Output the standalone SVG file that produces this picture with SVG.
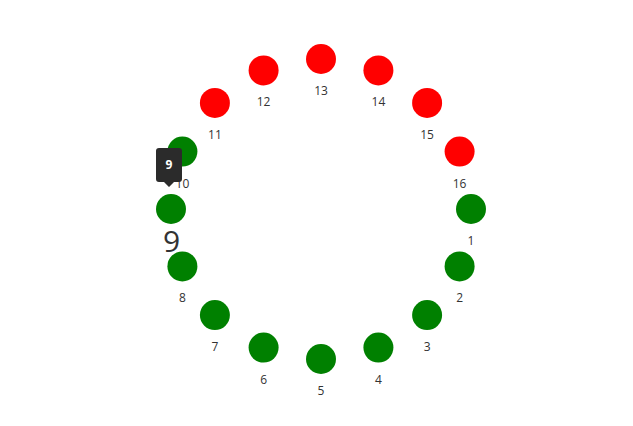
<svg xmlns="http://www.w3.org/2000/svg" width="633" height="426" viewBox="0 0 633 426">
<style>
.r{fill:#ff0000}
.g{fill:#008000}
.lbl{font-family:"Open Sans","Liberation Sans",sans-serif;font-size:12px;fill:#333;text-anchor:middle}
.big{font-family:"Open Sans","Liberation Sans",sans-serif;font-size:30px;fill:#333;text-anchor:middle}
.tt{font-family:"Open Sans","Liberation Sans",sans-serif;font-size:12px;font-weight:bold;fill:#fff;text-anchor:middle}
</style>
<rect width="633" height="426" fill="#fff"/>
<g id="connectors"/>
<g id="n1"><circle class="g" cx="471" cy="209" r="15"/><text class="lbl" x="471" y="245">1</text></g>
<g id="n2"><circle class="g" cx="459.6" cy="266.4" r="15"/><text class="lbl" x="459.6" y="302.4">2</text></g>
<g id="n3"><circle class="g" cx="427.1" cy="315.1" r="15"/><text class="lbl" x="427.1" y="351.1">3</text></g>
<g id="n4"><circle class="g" cx="378.4" cy="347.6" r="15"/><text class="lbl" x="378.4" y="383.6">4</text></g>
<g id="n5"><circle class="g" cx="321" cy="359" r="15"/><text class="lbl" x="321" y="395">5</text></g>
<g id="n6"><circle class="g" cx="263.6" cy="347.6" r="15"/><text class="lbl" x="263.6" y="383.6">6</text></g>
<g id="n7"><circle class="g" cx="214.9" cy="315.1" r="15"/><text class="lbl" x="214.9" y="351.1">7</text></g>
<g id="n8"><circle class="g" cx="182.4" cy="266.4" r="15"/><text class="lbl" x="182.4" y="302.4">8</text></g>
<g id="n10"><circle class="g" cx="182.4" cy="151.6" r="15"/><text class="lbl" x="182.4" y="187.6">10</text></g>
<g id="n11"><circle class="r" cx="214.9" cy="102.9" r="15"/><text class="lbl" x="214.9" y="138.9">11</text></g>
<g id="n12"><circle class="r" cx="263.6" cy="70.4" r="15"/><text class="lbl" x="263.6" y="106.4">12</text></g>
<g id="n13"><circle class="r" cx="321" cy="59" r="15"/><text class="lbl" x="321" y="95">13</text></g>
<g id="n14"><circle class="r" cx="378.4" cy="70.4" r="15"/><text class="lbl" x="378.4" y="106.4">14</text></g>
<g id="n15"><circle class="r" cx="427.1" cy="102.9" r="15"/><text class="lbl" x="427.1" y="138.9">15</text></g>
<g id="n16"><circle class="r" cx="459.6" cy="151.6" r="15"/><text class="lbl" x="459.6" y="187.6">16</text></g>
<g id="n9"><circle class="g" cx="171" cy="209" r="15"/><text class="big" x="171.5" y="252">9</text></g>
<g id="tooltip">
<path d="M159,148 H179 Q182,148 182,151 V179 Q182,182 179,182 H174 L169,187 L164,182 H159 Q156,182 156,179 V151 Q156,148 159,148 Z" fill="#2b2b2b"/>
<text class="tt" x="169" y="169">9</text>
</g>
</svg>
